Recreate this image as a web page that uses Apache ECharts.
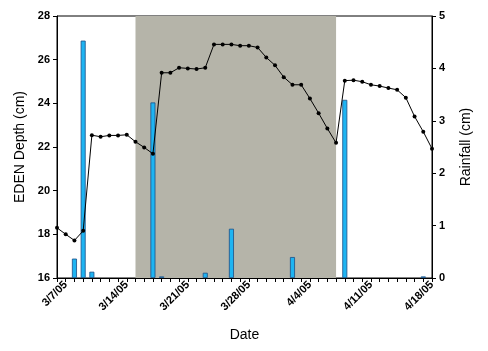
<!DOCTYPE html>
<html>
<head>
<meta charset="utf-8">
<script src="https://cdn.jsdelivr.net/npm/echarts@6/dist/echarts.min.js"></script>
<style>
  html, body { margin: 0; padding: 0; background: #fff; }
  #chart { width: 488px; height: 351px; }
</style>
</head>
<body>
<div id="chart"></div>
<script>
// one category per day, 3/6/05 .. 4/18/05
const dates = [
  '3/6/05', '3/7/05', '3/8/05', '3/9/05', '3/10/05', '3/11/05', '3/12/05', '3/13/05',
  '3/14/05', '3/15/05', '3/16/05', '3/17/05', '3/18/05', '3/19/05', '3/20/05', '3/21/05',
  '3/22/05', '3/23/05', '3/24/05', '3/25/05', '3/26/05', '3/27/05', '3/28/05', '3/29/05',
  '3/30/05', '3/31/05', '4/1/05', '4/2/05', '4/3/05', '4/4/05', '4/5/05', '4/6/05',
  '4/7/05', '4/8/05', '4/9/05', '4/10/05', '4/11/05', '4/12/05', '4/13/05', '4/14/05',
  '4/15/05', '4/16/05', '4/17/05', '4/18/05'
]

const tickLabels = ['3/7/05', '3/14/05', '3/21/05', '3/28/05', '4/4/05', '4/11/05', '4/18/05']

// EDEN depth (cm)
const depth = [
  18.30, 18.00, 17.72, 18.16, 22.54, 22.47, 22.53, 22.53,
  22.56, 22.24, 21.98, 21.69, 25.40, 25.40, 25.63, 25.60,
  25.57, 25.63, 26.70, 26.70, 26.70, 26.64, 26.64, 26.56,
  26.10, 25.74, 25.20, 24.85, 24.85, 24.22, 23.55, 22.85,
  22.19, 25.04, 25.06, 24.99, 24.85, 24.79, 24.70, 24.62,
  24.26, 23.40, 22.70, 21.92
]

// rainfall (cm)
const rainfall = [
  0, 0, 0.37, 4.53, 0.12, 0, 0, 0,
  0, 0, 0, 3.35, 0.03, 0, 0, 0,
  0, 0.10, 0, 0, 0.94, 0, 0, 0,
  0, 0, 0, 0.40, 0, 0, 0, 0,
  0, 3.40, 0, 0, 0, 0, 0, 0,
  0, 0, 0.03, 0
]

// shaded period
const shadeStart = '3/15/05'
const shadeEnd = '4/7/05'

const myChart = echarts.init(document.getElementById('chart'))

const font = 'Arial, "Liberation Sans", sans-serif'

const option = {
  animation: false,
  textStyle: { fontFamily: font },
  grid: {
    left: 57,
    right: 56,
    top: 16,
    bottom: 73,
    show: true,
    borderColor: '#000',
    borderWidth: 1
  },
  xAxis: {
    type: 'category',
    data: dates,
    boundaryGap: false,
    name: 'Date',
    nameLocation: 'middle',
    nameGap: 50,
    nameTextStyle: { color: '#000', fontSize: 14, fontFamily: font },
    axisLine: { lineStyle: { color: '#000', width: 1 } },
    axisTick: { interval: 0, length: 4, lineStyle: { color: '#000' } },
    axisLabel: {
      interval: 0,
      rotate: 45,
      margin: 5,
      color: '#000',
      fontSize: 11,
      fontWeight: 'bold',
      fontFamily: font,
      formatter: (value) => tickLabels.indexOf(value) >= 0 ? value : ''
    },
    splitLine: { show: false }
  },
  yAxis: [{
    type: 'value',
    min: 16,
    max: 28,
    interval: 2,
    name: 'EDEN Depth (cm)',
    nameLocation: 'middle',
    nameGap: 29,
    nameTextStyle: { color: '#000', fontSize: 14, fontFamily: font },
    axisLine: { show: true, lineStyle: { color: '#000' } },
    axisTick: { show: true, length: 4, lineStyle: { color: '#000' } },
    axisLabel: { color: '#000', fontSize: 11, fontWeight: 'bold', margin: 7, fontFamily: font },
    splitLine: { show: false }
  }, {
    type: 'value',
    min: 0,
    max: 5,
    interval: 1,
    name: 'Rainfall (cm)',
    nameLocation: 'middle',
    nameGap: 27,
    nameRotate: 90,
    nameTextStyle: { color: '#000', fontSize: 14, fontFamily: font },
    axisLine: { show: true, lineStyle: { color: '#000' } },
    axisTick: { show: true, length: 4, lineStyle: { color: '#000' } },
    axisLabel: { color: '#000', fontSize: 11, fontWeight: 'bold', margin: 7, fontFamily: font },
    splitLine: { show: false }
  }],
  series: [
    {
      // shaded area only
      type: 'line',
      data: [],
      silent: true,
      markArea: {
        silent: true,
        itemStyle: { color: '#b5b4a9' },
        data: [[{ xAxis: shadeStart }, { xAxis: shadeEnd }]]
      }
    },
    {
      name: 'Rainfall',
      type: 'bar',
      yAxisIndex: 1,
      barWidth: 5,
      data: rainfall.map(v => v > 0 ? v : null),
      itemStyle: { color: '#1eb4f2', borderColor: '#1d4f86', borderWidth: 0.8 }
    },
    {
      name: 'EDEN Depth',
      type: 'line',
      yAxisIndex: 0,
      data: depth,
      symbol: 'circle',
      symbolSize: 4,
      itemStyle: { color: '#000' },
      lineStyle: { color: '#000', width: 1 },
      z: 5
    }
  ]
}

myChart.setOption(option)
</script>
</body>
</html>
